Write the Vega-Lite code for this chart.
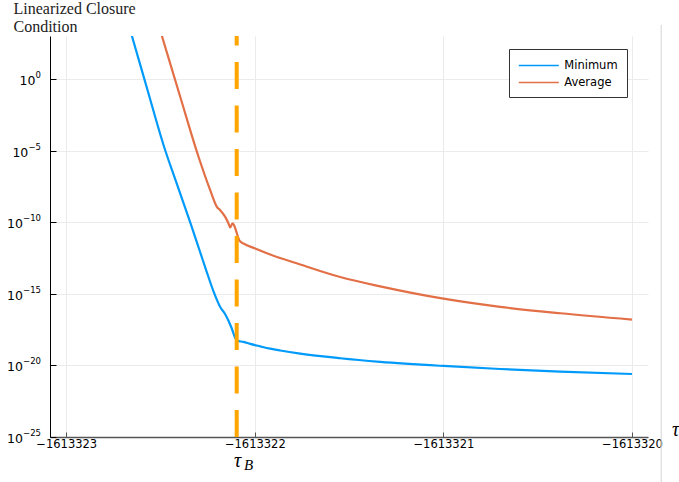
{
  "$schema": "https://vega.github.io/schema/vega-lite/v6.json",
  "width": 598,
  "height": 401,
  "autosize": {"type": "none"},
  "padding": {"left": 50, "top": 36, "right": 31, "bottom": 45},
  "background": "white",
  "config": {"view": {"stroke": null}},
  "datasets": {
    "curves": [
      {"series": "Minimum", "x": -1613322.6819, "y": 2.57e4},
      {"series": "Minimum", "x": -1613322.6516, "y": 1e3},
      {"series": "Minimum", "x": -1613322.5705, "y": 2.004e-1},
      {"series": "Minimum", "x": -1613322.4841, "y": 2.46e-5},
      {"series": "Minimum", "x": -1613322.4115, "y": 3.96e-8},
      {"series": "Minimum", "x": -1613322.3425, "y": 9.55e-11},
      {"series": "Minimum", "x": -1613322.2932, "y": 1.096e-12},
      {"series": "Minimum", "x": -1613322.2577, "y": 4.365e-14},
      {"series": "Minimum", "x": -1613322.219, "y": 1.479e-15},
      {"series": "Minimum", "x": -1613322.1835, "y": 1.202e-16},
      {"series": "Minimum", "x": -1613322.1569, "y": 3.715e-17},
      {"series": "Minimum", "x": -1613322.1251, "y": 4.786e-18},
      {"series": "Minimum", "x": -1613322.1039, "y": 8.318e-19},
      {"series": "Minimum", "x": -1613322.0933, "y": 5.129e-19},
      {"series": "Minimum", "x": -1613322.0599, "y": 4.365e-19},
      {"series": "Minimum", "x": -1613322.0244, "y": 3.162e-19},
      {"series": "Minimum", "x": -1613321.9714, "y": 2.138e-19},
      {"series": "Minimum", "x": -1613321.9183, "y": 1.479e-19},
      {"series": "Minimum", "x": -1613321.8653, "y": 1.096e-19},
      {"series": "Minimum", "x": -1613321.7593, "y": 6.607e-20},
      {"series": "Minimum", "x": -1613321.5472, "y": 3.162e-20},
      {"series": "Minimum", "x": -1613321.3351, "y": 1.778e-20},
      {"series": "Minimum", "x": -1613320.9995, "y": 9.12e-21},
      {"series": "Minimum", "x": -1613320.6988, "y": 5.623e-21},
      {"series": "Minimum", "x": -1613320.3807, "y": 3.715e-21},
      {"series": "Minimum", "x": -1613320, "y": 2.512e-21},
      {"series": "Average", "x": -1613322.5281, "y": 3.548e4},
      {"series": "Average", "x": -1613322.4926, "y": 1e3},
      {"series": "Average", "x": -1613322.3955, "y": 5.754e-2},
      {"series": "Average", "x": -1613322.2985, "y": 3.715e-6},
      {"series": "Average", "x": -1613322.2365, "y": 1.738e-8},
      {"series": "Average", "x": -1613322.201, "y": 1.175e-9},
      {"series": "Average", "x": -1613322.1835, "y": 6.918e-10},
      {"series": "Average", "x": -1613322.1569, "y": 2.344e-10},
      {"series": "Average", "x": -1613322.1394, "y": 8.128e-11},
      {"series": "Average", "x": -1613322.1304, "y": 4.266e-11},
      {"series": "Average", "x": -1613322.1182, "y": 8.128e-11},
      {"series": "Average", "x": -1613322.1076, "y": 5.248e-11},
      {"series": "Average", "x": -1613322.0949, "y": 1.622e-11},
      {"series": "Average", "x": -1613322.0811, "y": 5.129e-12},
      {"series": "Average", "x": -1613322.0599, "y": 3.236e-12},
      {"series": "Average", "x": -1613321.9979, "y": 1.445e-12},
      {"series": "Average", "x": -1613321.9183, "y": 5.495e-13},
      {"series": "Average", "x": -1613321.7593, "y": 1.122e-13},
      {"series": "Average", "x": -1613321.5472, "y": 1.479e-14},
      {"series": "Average", "x": -1613321.3351, "y": 3.311e-15},
      {"series": "Average", "x": -1613320.9995, "y": 4.571e-16},
      {"series": "Average", "x": -1613320.6988, "y": 1.23e-16},
      {"series": "Average", "x": -1613320.3807, "y": 4.365e-17},
      {"series": "Average", "x": -1613320, "y": 1.585e-17}
    ],
    "vline": [{"x": -1613322.096}],
    "yticks": [
      {"v": 1, "e": "0"},
      {"v": 1e-5, "e": "−5"},
      {"v": 1e-10, "e": "−10"},
      {"v": 1e-15, "e": "−15"},
      {"v": 1e-20, "e": "−20"},
      {"v": 1e-25, "e": "−25"}
    ]
  },
  "layer": [
    {
      "data": {"name": "curves"},
      "mark": {"type": "line", "strokeWidth": 2.2, "clip": true, "interpolate": "monotone"},
      "encoding": {
        "x": {
          "field": "x",
          "type": "quantitative",
          "scale": {"domain": [-1613323.086, -1613319.915], "nice": false, "zero": false},
          "axis": {
            "values": [-1613323, -1613322, -1613321, -1613320],
            "format": "d",
            "grid": true,
            "gridColor": "#ebebeb",
            "gridWidth": 1,
            "domainColor": "#555555",
            "domainWidth": 1.5,
            "tickColor": "#555555",
            "tickSize": -5,
            "labelFont": "DejaVu Sans",
            "labelFontSize": 11.5,
            "labelColor": "#000000",
            "labelPadding": 6,
            "labelFlush": false,
            "title": "τ",
            "titleFont": "Liberation Serif",
            "titleFontStyle": "italic",
            "titleFontWeight": "normal",
            "titleFontSize": 20,
            "titleColor": "#000000",
            "titleAlign": "center",
            "titleBaseline": "alphabetic",
            "titleX": 625,
            "titleY": -2
          }
        },
        "y": {
          "field": "y",
          "type": "quantitative",
          "scale": {"type": "log", "domain": [1e-25, 1000], "nice": false},
          "axis": {
            "values": [1, 1e-5, 1e-10, 1e-15, 1e-20, 1e-25],
            "labels": false,
            "grid": true,
            "gridColor": "#ebebeb",
            "gridWidth": 1,
            "domainColor": "#000000",
            "domainWidth": 1,
            "tickColor": "#000000",
            "tickSize": -6,
            "title": ["Linearized Closure", "Condition"],
            "titleFont": "Liberation Serif",
            "titleFontWeight": "normal",
            "titleFontSize": 16,
            "titleColor": "#222222",
            "titleAngle": 0,
            "titleAlign": "left",
            "titleBaseline": "alphabetic",
            "titleLineHeight": 18,
            "titleX": -37,
            "titleY": -23
          }
        },
        "color": {
          "field": "series",
          "type": "nominal",
          "scale": {"domain": ["Minimum", "Average"], "range": ["#009AFA", "#E26F46"]},
          "legend": {
            "orient": "none",
            "legendX": 459,
            "legendY": 13,
            "title": null,
            "strokeColor": "#333333",
            "fillColor": "#ffffff",
            "padding": 9,
            "rowPadding": 4,
            "symbolType": "M-3,0L3,0",
            "symbolSize": 178,
            "symbolOffset": 13.3,
            "symbolStrokeWidth": 1.3,
            "labelFont": "DejaVu Sans",
            "labelFontSize": 11.5,
            "labelColor": "#000000",
            "labelOffset": 18
          }
        }
      }
    },
    {
      "data": {"name": "yticks"},
      "mark": {"type": "text", "font": "DejaVu Sans", "fontSize": 8.5, "align": "right", "baseline": "alphabetic", "dx": -9, "dy": -1, "color": "#000000"},
      "encoding": {
        "x": {"datum": -1613323.086},
        "y": {"field": "v", "type": "quantitative"},
        "text": {"field": "e"}
      }
    },
    {
      "data": {"name": "yticks"},
      "transform": [{"filter": "datum.v == 1"}],
      "mark": {"type": "text", "text": "10", "font": "DejaVu Sans", "fontSize": 12.5, "align": "right", "baseline": "alphabetic", "dx": -14.6, "dy": 6, "color": "#000000"},
      "encoding": {
        "x": {"datum": -1613323.086},
        "y": {"field": "v", "type": "quantitative"}
      }
    },
    {
      "data": {"name": "yticks"},
      "transform": [{"filter": "datum.v == 1e-5"}],
      "mark": {"type": "text", "text": "10", "font": "DejaVu Sans", "fontSize": 12.5, "align": "right", "baseline": "alphabetic", "dx": -21.7, "dy": 6, "color": "#000000"},
      "encoding": {
        "x": {"datum": -1613323.086},
        "y": {"field": "v", "type": "quantitative"}
      }
    },
    {
      "data": {"name": "yticks"},
      "transform": [{"filter": "datum.v <= 1e-10"}],
      "mark": {"type": "text", "text": "10", "font": "DejaVu Sans", "fontSize": 12.5, "align": "right", "baseline": "alphabetic", "dx": -27.1, "dy": 6, "color": "#000000"},
      "encoding": {
        "x": {"datum": -1613323.086},
        "y": {"field": "v", "type": "quantitative"}
      }
    },
    {
      "data": {"name": "vline"},
      "mark": {"type": "rule", "color": "#FFA500", "strokeWidth": 4, "strokeDash": [27, 16.5]},
      "encoding": {
        "x": {"field": "x", "type": "quantitative"},
        "y": {"datum": 1e-25},
        "y2": {"datum": 1000}
      }
    },
    {
      "data": {"name": "vline"},
      "mark": {"type": "rule", "color": "#d4d4d4", "strokeWidth": 1},
      "encoding": {
        "x": {"datum": -1613319.845},
        "y": {"datum": 6026},
        "y2": {"datum": 6.3e-29}
      }
    },
    {
      "data": {"name": "vline"},
      "mark": {"type": "text", "text": "τ", "font": "Liberation Serif", "fontStyle": "italic", "fontSize": 20, "baseline": "alphabetic", "align": "center", "dx": 1, "dy": 5, "color": "#000000"},
      "encoding": {
        "x": {"field": "x", "type": "quantitative"},
        "y": {"datum": 1.66e-27}
      }
    },
    {
      "data": {"name": "vline"},
      "mark": {"type": "text", "text": "B", "font": "Liberation Serif", "fontStyle": "italic", "fontSize": 15, "baseline": "alphabetic", "align": "center", "dx": 12, "dy": 8, "color": "#000000"},
      "encoding": {
        "x": {"field": "x", "type": "quantitative"},
        "y": {"datum": 1.66e-27}
      }
    }
  ]
}
